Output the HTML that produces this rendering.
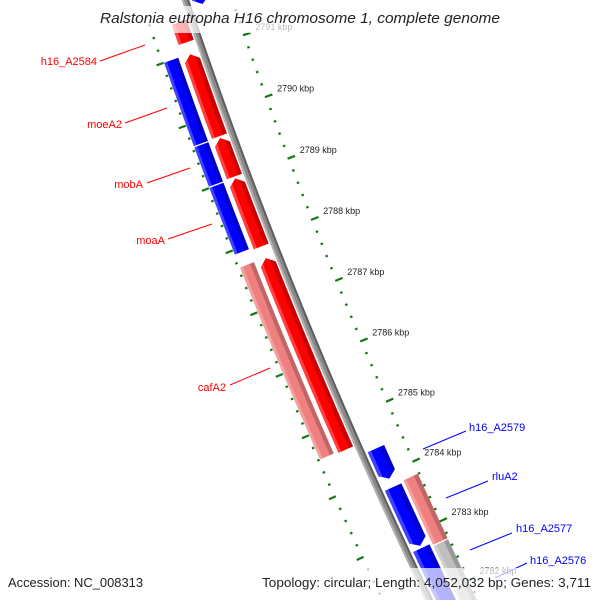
<!DOCTYPE html>
<html><head><meta charset="utf-8">
<style>
html,body{margin:0;padding:0;background:#fff;overflow:hidden;width:600px;height:600px;}
svg{display:block;font-family:"Liberation Sans",sans-serif;overflow:hidden;}
</style></head>
<body>
<svg id="map" width="600" height="600" viewBox="0 0 600 600" xmlns="http://www.w3.org/2000/svg">
<g id="rulers"></g>
<g id="genes"></g>
<g id="backbone"></g>
<g id="labels"></g>
<rect x="95" y="6" width="410" height="27" fill="#fff" opacity="0.7"/>
<text x="300" y="23" text-anchor="middle" font-size="14.5" font-style="italic" fill="#222" textLength="400" lengthAdjust="spacingAndGlyphs">Ralstonia eutropha H16 chromosome 1, complete genome</text>
<rect x="0" y="568" width="150" height="32" fill="#fff" opacity="0.7"/>
<rect x="255" y="568" width="345" height="32" fill="#fff" opacity="0.7"/>
<text x="8" y="587" font-size="13" fill="#222" textLength="135" lengthAdjust="spacingAndGlyphs">Accession: NC_008313</text>
<text x="591" y="587" text-anchor="end" font-size="13" fill="#222" textLength="329" lengthAdjust="spacingAndGlyphs">Topology: circular; Length: 4,052,032 bp; Genes: 3,711</text>
</svg>
<script>
// ---- data (kbp positions) ----
const geneStarts = [2791.18, 2789.68, 2789.03, 2787.90, 2784.58, 2789.67, 2789.02, 2787.93, 2784.60, 2791.65, 2791.70, 2783.91, 2782.79, 2781.50, 2782.72, 2781.50];
const geneEnds   = [2791.50, 2790.99, 2789.65, 2789.00, 2787.71, 2791.00, 2789.65, 2789.00, 2787.72, 2792.20, 2792.20, 2784.41, 2783.77, 2782.75, 2783.80, 2782.70];
const geneTracks = [1, 1, 1, 1, 1, 2, 2, 2, 2, -1, -2, -1, -1, -1, -2, -2];
const geneColors = ["#ff0000","#ff0000","#ff0000","#ff0000","#ff0000","#0000ff","#0000ff","#0000ff","#f08080","#0000ff","#b4b4b4","#0000ff","#0000ff","#0000ff","#f08080","#bebebe"];
const geneArrows = [0, 1, 1, 1, 1, 0, 0, 0, 0, 1, 0, 1, 1, 0, 0, 0];
const tickLabels = [2782, 2783, 2784, 2785, 2786, 2787, 2788, 2789, 2790, 2791];
const labelTexts = ["h16_A2584","moeA2","mobA","moaA","cafA2","h16_A2579","rluA2","h16_A2577","h16_A2576"];

// ---- geometry ----
const CX = 5160, CY = -1672, R0 = 5248;
const PHI0 = 0.3468, DPHI = 0.0126;
function phi(k){ return PHI0 + (2790 - k) * DPHI; }
function pt(k, off){ const r = R0 + off, a = phi(k); return [CX - r*Math.cos(a), CY + r*Math.sin(a)]; }
const trackOff = {"1":[5,21], "2":[25.5,40.5], "-1":[-24,-6], "-2":[-43,-27]};
const NS = "http://www.w3.org/2000/svg";
function mk(tag, attrs, parent){ const e = document.createElementNS(NS, tag); for (const k in attrs) e.setAttribute(k, attrs[k]); parent.appendChild(e); return e; }
function arcPts(k1, k2, off){ const out=[]; const n=24; for(let i=0;i<=n;i++){ out.push(pt(k1+(k2-k1)*i/n, off)); } return out; }
function poly(points){ return points.map(p=>p[0].toFixed(2)+","+p[1].toFixed(2)).join(" "); }

// ---- backbone ----
const bb = document.getElementById("backbone");
[[ -3.5, 3.5, "#8a8a8a"], [1.5, 3.5, "#b0b0b0"], [-3.5, -1.5, "#5e5e5e"]].forEach(b=>{
  const p = mk("polygon", {points: poly(arcPts(2781.3, 2792.3, b[1]).concat(arcPts(2792.3, 2781.3, b[0]))), fill: b[2]}, bb);
  
  
});

// ---- genes ----
const gg = document.getElementById("genes");
const ARROW = 0.1;
for (let i = 0; i < geneStarts.length; i++){
  const s = geneStarts[i], e = geneEnds[i], t = geneTracks[i];
  const [o1, o2] = trackOff[String(t)];
  const mid = (o1 + o2) / 2;
  let shape;
  if (geneArrows[i] && t > 0){
    shape = arcPts(s, e - ARROW, o2).concat([pt(e, mid)]).concat(arcPts(e - ARROW, s, o1));
  } else if (geneArrows[i] && t < 0){
    shape = arcPts(s + ARROW, e, o2).concat(arcPts(e, s + ARROW, o1)).concat([pt(s, mid)]);
  } else {
    shape = arcPts(s, e, o2).concat(arcPts(e, s, o1));
  }
  const g = mk("g", {}, gg);
  
  
  const cp = mk("clipPath", {id: "cg" + i}, g);
  mk("polygon", {points: poly(shape)}, cp);
  const main = mk("polygon", {points: poly(shape), fill: geneColors[i]}, g);
  
  
  const w = o2 - o1;
  const hi = mk("polygon", {points: poly(arcPts(s-0.2, e+0.2, o2+1).concat(arcPts(e+0.2, s-0.2, o2 - w*0.2))), fill: "#fff", opacity: "0.25", "clip-path": "url(#cg"+i+")"}, g);
  
  
  const sh = mk("polygon", {points: poly(arcPts(s-0.2, e+0.2, o1 + w*0.28).concat(arcPts(e+0.2, s-0.2, o1-1))), fill: "#000", opacity: "0.2", "clip-path": "url(#cg"+i+")"}, g);
  
  
}

// ---- rulers ----
const rg = document.getElementById("rulers");
for (let j = 0; j <= 50; j++){
  const k = 2781.6 + j * 0.2;
  const major = (Math.abs(Math.round(k) - k) < 0.01);
  const a1 = pt(k, -43), a2 = pt(k, major ? -51 : -45.5);
  const l1 = mk("line", {x1:a1[0], y1:a1[1], x2:a2[0], y2:a2[1], stroke:"#117a11", "stroke-width": 2.2}, rg);
  
  
  const b1 = pt(k, 41), b2 = pt(k, major ? 48.5 : 43.5);
  const l2 = mk("line", {x1:b1[0], y1:b1[1], x2:b2[0], y2:b2[1], stroke:"#117a11", "stroke-width": 2.2}, rg);
  
  
}
tickLabels.forEach(k=>{
  const p = pt(k, -56);
  const tx = mk("text", {x: p[0].toFixed(1), y: (p[1]-1).toFixed(1), "font-size": 9, fill: "#222"}, rg);
  
  
  tx.textContent = k + " kbp";
});

// ---- gene labels (annotation positions) ----
const lg = document.getElementById("labels");
const labelColor = ["red","red","red","red","red","blue","blue","blue","blue"];
const labelGeom = [
  [97,65,"end",100,61,145,45],
  [122,128,"end",125,123,167,108],
  [143,188,"end",147,183,190,168],
  [165,244,"end",168,239,212,224],
  [226,391,"end",230,385,270,368],
  [469,431,"start",423,449,466,431],
  [492,480,"start",446,498,488,481],
  [516,532,"start",470,550,512,533],
  [530,564,"start",495,578,527,563]
];
labelTexts.forEach((t,i)=>{
  const g = labelGeom[i];
  const ln = mk("line", {x1:g[3], y1:g[4], x2:g[5], y2:g[6], stroke: labelColor[i]==="red" ? "#ff0000" : "#0000ff", "stroke-width":1}, lg);
  
  
  const tx = mk("text", {x:g[0], y:g[1], "text-anchor":g[2], "font-size":11, fill: labelColor[i]==="red" ? "#ff0000" : "#0000ff"}, lg);
  
  
  tx.textContent = t;
});
</script>
</body></html>
